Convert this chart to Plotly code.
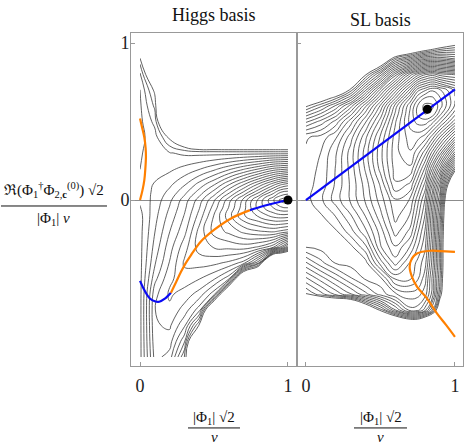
import plotly.graph_objects as go
from plotly.subplots import make_subplots

# they are a little finer around each minimum
higgs_x = [0.0, 0.1, 0.2, 0.3, 0.4, 0.5, 0.6, 0.7, 0.8, 0.9, 0.95, 1.0]
higgs_y = [-1.0, -0.9, -0.8, -0.7, -0.6, -0.5, -0.4, -0.3, -0.2, -0.1, -0.05, 0.0,
           0.05, 0.1, 0.2, 0.3, 0.4, 0.5, 0.6, 0.7, 0.8, 0.9, 1.0]

# Higgs basis, rows follow higgs_y
higgs_levels = [
    [22.3, 17.6, 18.4, 23.0, 32, 35, 35, 35, 35, 35, 35, 35],
    [22.3, 17.3, 17.5, 20.8, 32, 35, 35, 35, 35, 35, 35, 35],
    [22.3, 17.1, 16.8, 18.8, 24.2, 35, 35, 35, 35, 35, 35, 35],
    [22.3, 17.0, 16.2, 17.4, 19.5, 30, 35, 35, 35, 35, 35, 35],
    [22.3, 17.3, 15.8, 16.4, 17.4, 19.6, 30, 35, 35, 35, 35, 35],
    [22.3, 18.3, 16.2, 15.4, 15.9, 16.8, 18.6, 30, 35, 35, 35, 35],
    [22.3, 19.1, 16.9, 14.8, 14.6, 14.7, 15.2, 16.4, 20.7, 35, 35, 35],
    [22.3, 19.6, 17.4, 15.4, 13.5, 12.9, 12.7, 12.5, 13.1, 14.8, 17.2, 19.9],
    [22.3, 20.0, 18.0, 16.3, 13.6, 11.6, 10.7, 9.7, 9.1, 8.8, 9.2, 9.6],
    [22.3, 20.3, 18.6, 16.9, 14.6, 11.9, 9.4, 7.1, 5.8, 4.6, 4.3, 4.4],
    [22.05, 20.45, 18.9, 17.2, 15.05, 12.5, 9.9, 7.35, 4.6, 3.0, 2.2, 2.0],
    [21.8, 20.6, 19.2, 17.5, 15.5, 13.1, 10.4, 7.6, 4.7, 2.1, 0.7, 0.0],
    [21.6, 20.75, 19.7, 18.3, 16.55, 14.6, 12.25, 9.85, 7.2, 4.4, 3.0, 2.6],
    [21.4, 20.9, 20.2, 19.1, 17.6, 16.1, 14.1, 12.1, 9.8, 7.4, 6.2, 5.5],
    [20.95, 21.3, 21.2, 20.7, 20.1, 19.3, 18.3, 17.2, 16.1, 14.8, 14.5, 14.2],
    [20.9, 21.3, 21.9, 22.2, 22.3, 22.35, 22.4, 22.4, 22.4, 22.4, 22.4, 22.4],
    [20.7, 21.5, 24.3, 27, 30, 30, 30, 30, 30, 30, 30, 30],
    [20.7, 22.3, 30, 35, 35, 35, 35, 35, 35, 35, 35, 35],
    [20.8, 23.2, 35, 35, 35, 35, 35, 35, 35, 35, 35, 35],
    [20.95, 24.3, 35, 35, 35, 35, 35, 35, 35, 35, 35, 35],
    [21.8, 27.5, 35, 35, 35, 35, 35, 35, 35, 35, 35, 35],
    [23.6, 35, 35, 35, 35, 35, 35, 35, 35, 35, 35, 35],
    [35, 35, 35, 35, 35, 35, 35, 35, 35, 35, 35, 35],
]

sl_x = [0.0, 0.1, 0.2, 0.3, 0.4, 0.5, 0.6, 0.7, 0.75, 0.8, 0.85, 0.9, 1.0]
sl_y = [-1.0, -0.9, -0.8, -0.7, -0.6, -0.5, -0.4, -0.3, -0.2, -0.1, 0.0,
        0.1, 0.2, 0.3, 0.4, 0.5, 0.55, 0.6, 0.65, 0.7, 0.8, 0.9, 1.0]

# SL basis, rows follow sl_y
sl_levels = [
    [40, 40, 40, 40, 40, 40, 40, 40, 40, 40, 40, 40, 40],
    [40, 40, 40, 40, 40, 40, 40, 40, 40, 40, 40, 40, 40],
    [40, 40, 40, 40, 40, 40, 38, 36, 36, 38, 40, 40, 40],
    [40, 40, 40, 40, 34, 29.5, 25, 21.3, 21.5, 23.5, 27, 33, 40],
    [30.1, 28.4, 26.7, 25.1, 23.3, 21.6, 20.1, 19.4, 19.6, 20.5, 23.5, 29, 40],
    [27.2, 25.5, 23.8, 22.1, 20.8, 20.3, 16.8, 16.8, 17.8, 19.6, 23.3, 28, 40],
    [24.1, 22.3, 20.85, 20.55, 20.4, 16.5, 13.5, 16.1, 17.3, 18.6, 22.5, 27.5, 40],
    [20.95, 20.6, 20.45, 20.3, 18.3, 14.1, 12.1, 14.1, 16.0, 17.8, 22.1, 27.5, 40],
    [20.6, 20.45, 20.15, 18.4, 16.2, 13.5, 10.5, 12.3, 14.8, 17.1, 21.5, 27.1, 40],
    [20.4, 20.1, 18.9, 17.1, 14.9, 12.3, 9.6, 11.1, 13.6, 16.1, 21.1, 26.5, 40],
    [20.35, 19.2, 17.5, 15.8, 13.8, 11.5, 9.1, 10.1, 12.6, 15.1, 20.1, 25.1, 40],
    [20.35, 19.6, 17.8, 15.8, 13.5, 10.8, 7.1, 8.2, 10.8, 13.3, 18.2, 23.1, 36],
    [20.5, 19.75, 17.9, 15.6, 12.8, 9.6, 6.5, 6.2, 8.6, 11.2, 15.1, 19.1, 29],
    [20.8, 19.95, 18.1, 15.5, 12.5, 9.3, 6.3, 5.1, 6.6, 8.6, 11.5, 14.5, 21.5],
    [21.1, 20.6, 19.1, 16.4, 13.2, 9.8, 6.5, 4.4, 4.6, 5.5, 7.6, 10.1, 15.1],
    [25.2, 23.6, 21.6, 18.4, 15.1, 11.5, 7.1, 3.6, 2.6, 2.4, 3.6, 5.5, 9.5],
    [27.7, 25.9, 23.7, 20.4, 16.6, 12.6, 7.8, 3.7, 1.7, 0.9, 1.3, 3.6, 7.6],
    [30.3, 28.3, 25.8, 22.5, 18.2, 13.8, 8.5, 4.1, 1.9, 0.6, 0.8, 2.5, 6.1],
    [35, 31.5, 29.3, 26.1, 21.1, 16.1, 11.1, 5.9, 3.3, 1.9, 1.8, 2.9, 5.9],
    [40, 35, 33, 29.5, 24.1, 18.5, 13.5, 8.5, 5.3, 4.1, 3.1, 3.8, 6.2],
    [40, 40, 40, 38, 30.2, 25.5, 19.5, 14.5, 12.5, 11.1, 10.5, 11.5, 12.1],
    [40, 40, 40, 40, 40, 34, 28.5, 26.1, 24.7, 23.5, 23.2, 23.1, 24.1],
    [40, 40, 40, 40, 40, 40, 40, 38, 37, 36, 34.5, 33, 31],
]

# curves in the Higgs basis
higgs_blue_low_x = [0.0, 0.03, 0.065, 0.1, 0.13, 0.165, 0.209]
higgs_blue_low_y = [-0.515, -0.575, -0.625, -0.645, -0.648, -0.63, -0.59]
higgs_orange_x = [0.209, 0.245, 0.277, 0.31, 0.345, 0.41, 0.5, 0.615, 0.743]
higgs_orange_y = [-0.59, -0.52, -0.457, -0.40, -0.35, -0.265, -0.19, -0.117, -0.064]
higgs_blue_high_x = [0.743, 0.833, 0.92, 1.0]
higgs_blue_high_y = [-0.064, -0.038, -0.017, 0.0]
higgs_orange_left_x = [0.0, 0.012, 0.029, 0.038, 0.04, 0.036, 0.029, 0.016, 0.0]
higgs_orange_left_y = [0.52, 0.47, 0.40, 0.33, 0.276, 0.2, 0.127, 0.06, 0.0]
higgs_min = (1.0, 0.0)

# curves in the SL basis
sl_blue_x = [0.0, 1.0]
sl_blue_y = [0.0, 0.705]
sl_orange_x = [1.0, 0.9, 0.834, 0.745, 0.711, 0.696, 0.711, 0.745, 0.812, 0.879, 0.94, 1.0]
sl_orange_y = [-0.33, -0.325, -0.323, -0.34, -0.372, -0.425, -0.488, -0.552, -0.626, -0.722, -0.795, -0.871]
sl_min = (0.815, 0.578)

BLUE = "#0a0af5"
ORANGE = "#ff8000"
SERIF = "Liberation Serif, DejaVu Serif, serif"

fig = make_subplots(rows=1, cols=2, shared_yaxes=True, horizontal_spacing=0)


def contour(x, y, z, top):
    return go.Contour(
        x=x, y=y, z=z,
        autocontour=False,
        contours=dict(start=0.97, end=top - 0.03, size=1, coloring="lines"),
        colorscale=[[0, "#3a3a3a"], [1, "#3a3a3a"]],
        line=dict(width=0.8, smoothing=1.3),
        showscale=False, hoverinfo="skip",
    )


def curve(x, y, color):
    return go.Scatter(x=x, y=y, mode="lines", line=dict(color=color, width=2.2, shape="spline"),
                      hoverinfo="skip")


fig.add_trace(contour(higgs_x, higgs_y, higgs_levels, 24), row=1, col=1)
fig.add_trace(curve(higgs_orange_left_x, higgs_orange_left_y, ORANGE), row=1, col=1)
fig.add_trace(curve(higgs_blue_low_x, higgs_blue_low_y, BLUE), row=1, col=1)
fig.add_trace(curve(higgs_orange_x, higgs_orange_y, ORANGE), row=1, col=1)
fig.add_trace(curve(higgs_blue_high_x, higgs_blue_high_y, BLUE), row=1, col=1)
fig.add_trace(go.Scatter(x=[higgs_min[0]], y=[higgs_min[1]], mode="markers",
                         marker=dict(color="black", size=9), hoverinfo="skip"), row=1, col=1)

fig.add_trace(contour(sl_x, sl_y, sl_levels, 30), row=1, col=2)
fig.add_trace(curve(sl_blue_x, sl_blue_y, BLUE), row=1, col=2)
fig.add_trace(curve(sl_orange_x, sl_orange_y, ORANGE), row=1, col=2)
fig.add_trace(go.Scatter(x=[sl_min[0]], y=[sl_min[1]], mode="markers",
                         marker=dict(color="black", size=9), hoverinfo="skip"), row=1, col=2)

frame = dict(showgrid=False, showline=True, linecolor="#999999", linewidth=1, mirror=True,
             ticks="inside", ticklen=4, tickcolor="#999999", automargin=False,
             tickfont=dict(family=SERIF, size=18, color="#222"))

fig.update_xaxes(**frame, zeroline=False, tickvals=[0, 1], ticktext=["0", "1"], ticklabelstandoff=3)
fig.update_xaxes(range=[-0.061, 1.061], domain=[0, 0.5], row=1, col=1)
fig.update_xaxes(range=[-0.06, 1.054], domain=[0.5, 1], row=1, col=2)
fig.update_yaxes(**frame, range=[-1.057, 1.064], tickvals=[0, 1], ticktext=["0", "1"],
                 zeroline=True, zerolinecolor="#8c8c8c", zerolinewidth=1, ticklabelstandoff=-3)
fig.update_yaxes(showticklabels=False, row=1, col=2)

annotations = [
    dict(text="Higgs basis", x=0.25, y=1.054, font=dict(size=18)),
    dict(text="SL basis", x=0.753, y=1.039, font=dict(size=18)),
    dict(text="|Φ<sub>1</sub>| √2", x=0.25, y=-0.157, font=dict(size=15)),
    dict(text="<i>v</i>", x=0.25, y=-0.213, font=dict(size=15)),
    dict(text="|Φ<sub>1</sub>| √2", x=0.753, y=-0.157, font=dict(size=15)),
    dict(text="<i>v</i>", x=0.753, y=-0.213, font=dict(size=15)),
    dict(text="ℜ(Φ<sub>1</sub><sup>†</sup>Φ<sub>2,<b>c</b></sub><sup>(0)</sup>) √2",
         x=-0.232, y=0.530, font=dict(size=15)),
    dict(text="|Φ<sub>1</sub>| <i>v</i>", x=-0.232, y=0.442, font=dict(size=15)),
]
for a in annotations:
    fig.add_annotation(xref="paper", yref="paper", showarrow=False, xanchor="center",
                       yanchor="middle", font_family=SERIF, font_color="#111", **a)

bars = [(-0.3916, -0.0723, 0.4805), (0.1717, 0.3283, -0.186), (0.6717, 0.8313, -0.186)]
for x0, x1, yb in bars:
    fig.add_shape(type="line", xref="paper", yref="paper", x0=x0, x1=x1, y0=yb, y1=yb,
                  line=dict(color="#111", width=1))

fig.update_layout(
    width=466, height=447,
    margin=dict(l=131, r=3, t=33, b=81),
    plot_bgcolor="white", paper_bgcolor="white",
    showlegend=False,
    font=dict(family=SERIF),
)

# the page body keeps no margin so the figure sits at the window's corner
fig.write_html("out.html", config={"displayModeBar": False},
               post_script="document.body.style.margin='0px';")
